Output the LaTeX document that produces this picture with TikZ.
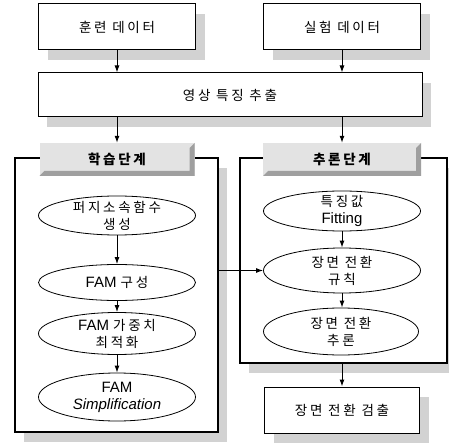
\documentclass[tikz,border=0pt]{standalone}
\usepackage{fontspec}
\setmainfont{Liberation Sans}
\newfontfamily\krfam{Noto Sans CJK KR}[LetterSpace=20]
\newcommand\kr[1]{{\krfam\fontsize{13.5}{17}\selectfont #1}}
\usetikzlibrary{shapes.geometric,arrows.meta,shadows}
\begin{document}
\begin{tikzpicture}[x=1pt,y=-1pt,
  font=\fontsize{15}{17}\selectfont,
  shad/.style={drop shadow={shadow xshift=9pt,shadow yshift=-10pt,fill=gray!35,opacity=1}},
  box/.style={draw,line width=1pt,fill=white,inner sep=0pt,minimum height=46pt,minimum width=157pt,shad},
  frame/.style={draw,line width=1.1pt,fill=white,inner sep=0pt,shad},
  ell/.style={ellipse,draw,line width=0.8pt,fill=white,inner sep=0pt,minimum width=157pt},
  txt/.style={align=center,inner sep=0pt},
  tab/.style={inner sep=0pt,minimum height=33pt,fill=gray!22,
    path picture={\fill[gray!75] (path picture bounding box.south west) -- (path picture bounding box.south east)
      -- (path picture bounding box.north east) -- ([xshift=-5pt,yshift=-5pt]path picture bounding box.north east)
      -- ([xshift=-5pt,yshift=5pt]path picture bounding box.south east)
      -- ([xshift=5pt,yshift=5pt]path picture bounding box.south west) -- cycle;}},
  arr/.style={line width=1pt,-{Latex[length=7pt,width=5pt]}}]
\useasboundingbox (0,0) rectangle (449,443);
\clip (0,0) rectangle (449,443);
% top boxes
\node[box] (train) at (117,27) {\kr{훈련 데이터}};
\node[box] (test) at (342,27) {\kr{실험 데이터}};
\node[box,minimum width=384pt,minimum height=44pt] (feat) at (230,95) {\kr{영상 특징 추출}};
% frames
\node[frame,minimum width=203pt,minimum height=274pt] (lf) at (116.5,295) {};
\node[frame,minimum width=207pt,minimum height=205pt] (rf) at (343.5,260.5) {};
% tabs
\node[tab,minimum width=155pt] (ltab) at (117,159.5) {\kr{\bfseries 학습단계}};
\node[tab,minimum width=158pt] (rtab) at (342,159.5) {\kr{\bfseries 추론단계}};
% left ellipses
\node[ell,minimum height=39pt] (e1) at (117,215.5) {};
\node[txt] (e1t) at (e1) {\kr{퍼지소속함수}\\\kr{생성}};
\node[ell,minimum height=36pt] (e2) at (117,282.5) {};
\node[txt] (e2t) at (e2) {FAM \kr{구성}};
\node[ell,minimum height=42pt] (e3) at (117,333.5) {};
\node[txt] (e3t) at (e3) {FAM \kr{가중치}\\\kr{최적화}};
\node[ell,minimum height=48pt] (e4) at (117,397) {};
\node[txt] (e4t) at (e4) {FAM\\\itshape Simplification};
% right ellipses
\node[ell,minimum height=40pt] (r1) at (342,211) {};
\node[txt] (r1t) at (r1) {\kr{특징값}\\Fitting};
\node[ell,minimum height=45pt] (r2) at (342,270.5) {};
\node[txt] (r2t) at (r2) {\kr{장면 전환}\\\kr{규칙}};
\node[ell,minimum height=47pt,minimum width=155pt] (r3) at (341,331.5) {};
\node[txt] (r3t) at (r3) {\kr{장면 전환}\\\kr{추론}};
% result
\node[box,minimum width=155pt] (res) at (342,410) {\kr{장면 전환 검출}};
% arrows
\draw[arr] (train.south) -- (train.south |- feat.north);
\draw[arr] (test.south) -- (test.south |- feat.north);
\draw[arr] (ltab.north |- feat.south) -- (ltab.north);
\draw[arr] (rtab.north |- feat.south) -- (rtab.north);
\draw[arr] (e1) -- (e2);
\draw[arr] (e2) -- (e3);
\draw[arr] (e3) -- (e4);
\draw[arr] (r1) -- (r2);
\draw[arr] (r2.south) -- (r2.south |- r3.north);
\draw[arr] (lf.east |- r2.west) -- (r2.west);
\draw[arr] (res.north |- rf.south) -- (res.north);
\end{tikzpicture}
\end{document}
